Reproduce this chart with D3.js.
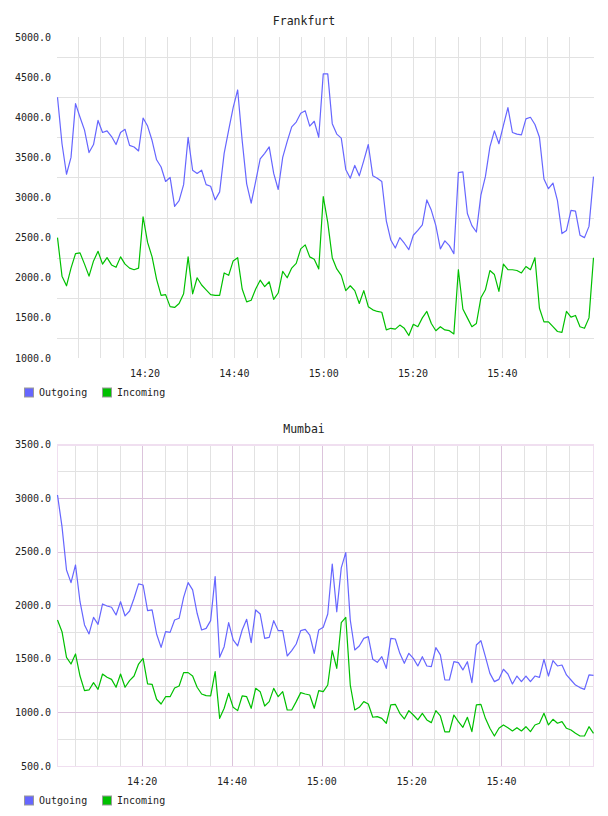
<!DOCTYPE html>
<html>
<head>
<meta charset="utf-8">
<script src="https://cdnjs.cloudflare.com/ajax/libs/d3/7.8.5/d3.min.js"></script>
<style>
  body { margin: 0; background: #fff; }
  text { font-family: "DejaVu Sans Mono", monospace; fill: #222; }
</style>
</head>
<body>
<script>
// Frankfurt traffic, one sample per ~minute
var frankfurtOutgoing = [4250, 3670, 3290, 3500, 4170, 4000, 3840, 3560, 3660, 3960, 3810, 3830, 3760, 3660, 3810, 3850, 3650, 3630, 3580, 3990,
  3890, 3710, 3470, 3380, 3200, 3250, 2890, 2960, 3160, 3750, 3340, 3300, 3340, 3160, 3140, 2970, 3070, 3550, 3840, 4120,
  4340, 3710, 3170, 2930, 3200, 3480, 3550, 3630, 3300, 3100, 3500, 3700, 3880, 3940, 4050, 4080, 3890, 3950, 3750, 4540,
  4540, 3920, 3790, 3740, 3350, 3240, 3400, 3270, 3460, 3660, 3270, 3240, 3200, 2710, 2470, 2370, 2500, 2430, 2350, 2530,
  2590, 2660, 2970, 2840, 2650, 2360, 2460, 2400, 2300, 3310, 3320, 2800, 2650, 2570, 3030, 3260, 3630, 3830, 3670, 3900,
  4120, 3810, 3790, 3780, 3980, 4000, 3910, 3750, 3230, 3110, 3180, 2960, 2550, 2590, 2840, 2830, 2530, 2500, 2640, 3260];
var frankfurtIncoming = [2500, 2020, 1900, 2120, 2300, 2310, 2170, 2020, 2210, 2330, 2170, 2250, 2160, 2130, 2260, 2170, 2120, 2100, 2120, 2760,
  2440, 2260, 1980, 1780, 1790, 1640, 1630, 1680, 1800, 2260, 1800, 2000, 1910, 1850, 1790, 1780, 1780, 2060, 2030, 2210,
  2250, 1860, 1700, 1720, 1860, 1970, 1890, 1950, 1730, 1810, 2080, 2000, 2120, 2180, 2360, 2410, 2260, 2230, 2110, 3010,
  2690, 2250, 2110, 2030, 1840, 1900, 1840, 1680, 1840, 1640, 1600, 1580, 1570, 1350, 1370, 1360, 1410, 1370, 1280, 1420,
  1390, 1500, 1580, 1430, 1340, 1390, 1350, 1340, 1300, 2100, 1610, 1500, 1390, 1430, 1750, 1850, 2090, 2040, 1830, 2170,
  2100, 2100, 2090, 2060, 2140, 2100, 2250, 1620, 1450, 1450, 1390, 1330, 1320, 1580, 1510, 1530, 1390, 1370, 1500, 2250];

// Mumbai traffic
var mumbaiOutgoing = [3030, 2735, 2330, 2212, 2377, 2034, 1817, 1733, 1888, 1823, 2013, 1994, 1982, 1910, 2034, 1901, 1947, 2066, 2200, 2190,
  1950, 1957, 1733, 1608, 1754, 1748, 1863, 1879, 2075, 2212, 2144, 1926, 1770, 1785, 1857, 2268, 1515, 1614, 1838, 1677,
  1621, 1770, 1870, 1652, 1957, 1919, 1692, 1701, 1857, 1764, 1764, 1527, 1577, 1639, 1764, 1776, 1723, 1552, 1770, 1795,
  1919, 2386, 1940, 2350, 2492, 1863, 1583, 1621, 1692, 1708, 1496, 1468, 1521, 1412, 1692, 1686, 1552, 1459, 1552, 1505,
  1434, 1521, 1434, 1428, 1605, 1537, 1303, 1303, 1474, 1465, 1397, 1474, 1278, 1630, 1670, 1521, 1365, 1288, 1309, 1403,
  1359, 1266, 1340, 1288, 1340, 1288, 1340, 1328, 1496, 1340, 1484, 1434, 1443, 1350, 1303, 1256, 1232, 1216, 1350, 1347];
var mumbaiIncoming = [1863, 1754, 1515, 1452, 1546, 1340, 1204, 1210, 1278, 1216, 1359, 1328, 1309, 1235, 1359, 1235, 1297, 1340, 1452, 1505,
  1266, 1263, 1123, 1079, 1147, 1147, 1228, 1247, 1372, 1372, 1340, 1235, 1172, 1157, 1154, 1381, 945, 1039, 1179, 1048,
  1017, 1154, 1147, 1039, 1225, 1194, 1060, 1101, 1225, 1147, 1194, 1023, 1023, 1101, 1185, 1172, 1163, 1039, 1204, 1194,
  1256, 1577, 1412, 1838, 1888, 1256, 1023, 1048, 1101, 1079, 955, 961, 945, 899, 1070, 1076, 992, 939, 1017, 976,
  930, 992, 930, 905, 1017, 967, 818, 818, 976, 914, 861, 955, 821, 1070, 1076, 945, 852, 780, 852, 883,
  858, 827, 858, 827, 867, 821, 883, 899, 992, 883, 936, 899, 914, 852, 836, 805, 780, 780, 867, 805];

var seriesNames = ["Outgoing", "Incoming"];
var frankfurtYTicks = [1000, 1500, 2000, 2500, 3000, 3500, 4000, 4500, 5000];
var mumbaiYTicks = [500, 1000, 1500, 2000, 2500, 3000, 3500];
var xTickLabels = ["14:20", "14:40", "15:00", "15:20", "15:40"];
var frankfurtTimeRange = ["14:00:24", "16:00:24"];
var mumbaiTimeRange = ["14:01:09", "16:00:29"];

var colors = { Outgoing: "#6666ff", Incoming: "#00c000" };
var parseTime = d3.timeParse("%H:%M:%S");
var parseLabel = d3.timeParse("%H:%M");
var fmt = d3.format(".1f");

var svg = d3.select("body").append("svg")
  .attr("width", 608)
  .attr("height", 816);

function crisp(v) { return Math.round(v) + 0.5; }

function drawChart(opts) {
  var g = svg.append("g");
  var t0 = parseTime(opts.timeRange[0]);
  var t1 = parseTime(opts.timeRange[1]);
  var n = opts.series[0].length;
  var times = d3.range(n).map(i => new Date(+t0 + i * (t1 - t0) / (n - 1)));

  var x = d3.scaleTime().domain([t0, t1]).range([57.5, 593.5]);
  var y = d3.scaleLinear().domain(d3.extent(opts.yTicks)).range([opts.bottom, opts.top]);

  // minor horizontal grid (half way between labels)
  var minorY = opts.yTicks.slice(1).map(v => v - (opts.yTicks[1] - opts.yTicks[0]) / 2);
  g.selectAll(".hminor").data(minorY).enter().append("line")
    .attr("x1", 57).attr("x2", 594)
    .attr("y1", d => crisp(y(d))).attr("y2", d => crisp(y(d)))
    .attr("stroke", "#e2e2e2");

  // vertical grid every 5 minutes
  var fiveMin = d3.timeMinute.every(5).range(t0, t1).filter(t => x(t) < 585);
  g.selectAll(".vminor").data(fiveMin).enter().append("line")
    .attr("x1", d => crisp(x(d))).attr("x2", d => crisp(x(d)))
    .attr("y1", opts.top).attr("y2", opts.bottom)
    .attr("stroke", d => (opts.majorColor && d.getMinutes() % 20 === 0) ? opts.majorColor : "#e2e2e2");

  if (opts.majorColor) {
    g.selectAll(".hmajor").data(opts.yTicks.slice(1, -1)).enter().append("line")
      .attr("x1", 57).attr("x2", 594)
      .attr("y1", d => crisp(y(d))).attr("y2", d => crisp(y(d)))
      .attr("stroke", opts.majorColor);
    g.append("rect")
      .attr("x", 57.5).attr("y", crisp(opts.top) - 1)
      .attr("width", 536).attr("height", crisp(opts.bottom) - crisp(opts.top) + 1)
      .attr("fill", "none")
      .attr("stroke", opts.borderColor);
    g.append("line")
      .attr("x1", 57).attr("x2", 594)
      .attr("y1", crisp(opts.top)).attr("y2", crisp(opts.top))
      .attr("stroke", opts.borderColor);
  }

  // lines
  var line = d3.line()
    .x((d, i) => x(times[i]))
    .y(d => y(d));
  opts.series.forEach(function(s, k) {
    g.append("path")
      .attr("d", line(s))
      .attr("fill", "none")
      .attr("stroke", colors[seriesNames[k]])
      .attr("stroke-width", 1.2)
      .attr("stroke-linejoin", "round");
  });

  // y labels
  g.selectAll(".ylab").data(opts.yTicks).enter().append("text")
    .attr("x", 51).attr("y", d => y(d))
    .attr("text-anchor", "end")
    .attr("dominant-baseline", "central")
    .style("font-size", "10px")
    .text(d => fmt(d));

  // x labels
  g.selectAll(".xlab").data(xTickLabels).enter().append("text")
    .attr("x", d => x(parseLabel(d)))
    .attr("y", opts.bottom + 15.5)
    .attr("text-anchor", "middle")
    .attr("dominant-baseline", "central")
    .style("font-size", "10px")
    .text(d => d);

  // title
  g.append("text")
    .attr("x", 304).attr("y", opts.top - 16)
    .attr("text-anchor", "middle")
    .attr("dominant-baseline", "central")
    .style("font-size", "11.5px")
    .text(opts.title);

  // legend
  var lg = g.append("g").attr("transform", `translate(0, ${opts.bottom + 34.5})`);
  seriesNames.forEach(function(name, k) {
    var lx = 24 + k * 78;
    lg.append("rect")
      .attr("x", lx + 0.5).attr("y", -4.5)
      .attr("width", 9).attr("height", 9)
      .attr("fill", colors[name])
      .attr("stroke", "#999");
    lg.append("text")
      .attr("x", lx + 15).attr("y", 0)
      .attr("dominant-baseline", "central")
      .style("font-size", "10px")
      .text(name);
  });
}

drawChart({
  title: "Frankfurt",
  series: [frankfurtOutgoing, frankfurtIncoming],
  yTicks: frankfurtYTicks,
  timeRange: frankfurtTimeRange,
  top: 37, bottom: 358
});

drawChart({
  title: "Mumbai",
  series: [mumbaiOutgoing, mumbaiIncoming],
  yTicks: mumbaiYTicks,
  timeRange: mumbaiTimeRange,
  top: 444.7, bottom: 766,
  majorColor: "#dcc4dc",
  borderColor: "#f0dff0"
});
</script>
</body>
</html>
